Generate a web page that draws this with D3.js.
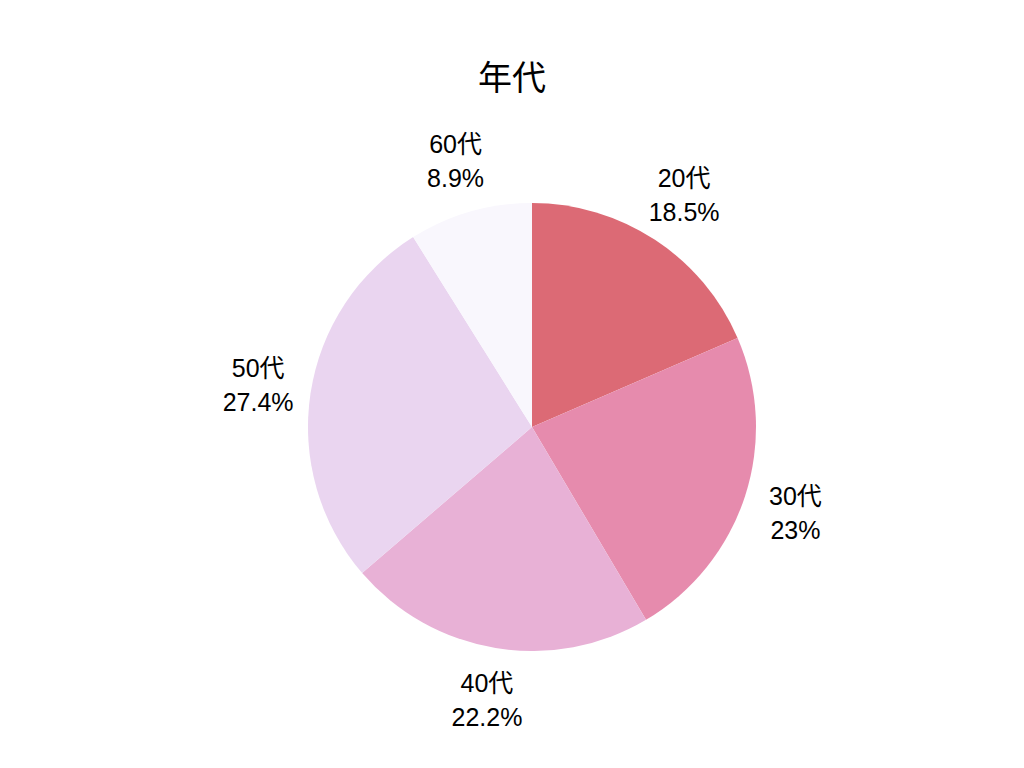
<!DOCTYPE html>
<html><head><meta charset="utf-8">
<script src="https://cdn.jsdelivr.net/npm/d3@7"></script>
<style>html,body{margin:0;padding:0;background:#fff;}</style>
</head><body>
<svg id="c" width="1024" height="768"></svg>
<script>
const categories = ["20代", "30代", "40代", "50代", "60代"];
const values = [18.5, 23, 22.2, 27.4, 8.9];
const valueLabels = ["18.5%", "23%", "22.2%", "27.4%", "8.9%"];
const colors = ["#dc6a75", "#e68bad", "#e8b1d6", "#ead5f0", "#f9f7fd"];
const title = "年代";

const svg = d3.select("#c");
const font = "'Liberation Sans', Arial, 'Noto Sans CJK JP', sans-serif";
const cx = 532, cy = 427, R = 224, LR = 277;

svg.append("text").attr("x", 512).attr("y", 90).attr("text-anchor", "middle")
  .attr("font-family", font).attr("font-size", 34).attr("fill", "#000").text(title);

const data = categories.map((c, i) => ({c, v: values[i], l: valueLabels[i], col: colors[i]}));
const pie = d3.pie().value(d => d.v).sort(null);
const arcs = pie(data);
const arc = d3.arc().innerRadius(0).outerRadius(R);
const labelArc = d3.arc().innerRadius(LR).outerRadius(LR);

const g = svg.append("g").attr("transform", `translate(${cx},${cy})`);
g.selectAll("path").data(arcs).join("path")
  .attr("d", arc).attr("fill", d => d.data.col);

const t = g.selectAll("text.lbl").data(arcs).join("text").attr("class", "lbl")
  .attr("transform", d => `translate(${labelArc.centroid(d)})`)
  .attr("text-anchor", "middle").attr("font-family", font).attr("font-size", 25).attr("fill", "#000");
t.append("tspan").attr("x", 0).attr("y", -8).text(d => d.data.c);
t.append("tspan").attr("x", 0).attr("y", 26).text(d => d.data.l);
</script>
</body></html>
